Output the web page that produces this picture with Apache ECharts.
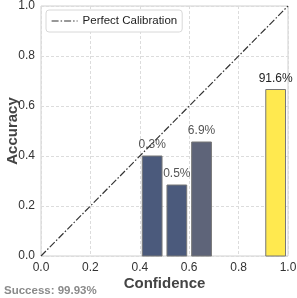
<!DOCTYPE html>
<html><head><meta charset="utf-8">
<script src="https://cdn.jsdelivr.net/npm/echarts@6/dist/echarts.min.js"></script>
<style>html,body{margin:0;padding:0;background:#fff}#c{width:297px;height:298px}</style>
</head><body><div id="c"></div>
<script>
const binCenters = [0.45, 0.55, 0.65, 0.95];
const accuracies = [0.40, 0.284, 0.456, 0.666];
const binShares = ['0.3%', '0.5%', '6.9%', '91.6%'];
const barColors = ['#4b5a7c', '#4b5a7c', '#5e6479', '#ffe94f'];
const labelColors = ['#555555', '#555555', '#555555', '#222222'];
const binWidth = 0.08;
const diagonal = [[0, 0], [1, 1]];
const ticks = [0, 0.2, 0.4, 0.6, 0.8, 1.0];

const chart = echarts.init(document.getElementById('c'), null, {renderer: 'canvas'});
const axisCommon = {
  type: 'value', min: 0, max: 1, interval: 0.2,
  axisLine: {show: false}, axisTick: {show: false},
  splitLine: {show: true, lineStyle: {color: '#dcdcdc', type: [3, 2], width: 1}},
  axisLabel: {color: '#333', fontSize: 12, fontFamily: 'Liberation Sans, Arial', formatter: v => v.toFixed(1)},
  nameLocation: 'middle', nameMoveOverlap: false,
  nameTextStyle: {color: '#444', fontSize: 15, fontWeight: 'bold', fontFamily: 'Liberation Sans, Arial'}
};
chart.setOption({
  animation: false,
  grid: {left: 41, top: 6, width: 247, height: 250, containLabel: false, outerBoundsMode: 'none',
         show: true, borderColor: '#d0d0d0', borderWidth: 1, backgroundColor: 'transparent'},
  xAxis: Object.assign({}, axisCommon, {name: 'Confidence', nameGap: 20, axisLabel: Object.assign({}, axisCommon.axisLabel, {margin: 6})}),
  yAxis: Object.assign({}, axisCommon, {name: 'Accuracy', nameGap: 21, axisLabel: Object.assign({}, axisCommon.axisLabel, {margin: 6})}),
  legend: {
    show: true, left: 46, top: 10, orient: 'horizontal',
    data: ['Perfect Calibration'],
    itemWidth: 26, itemHeight: 10, itemGap: 6,
    itemStyle: {opacity: 0},
    lineStyle: {color: '#333', width: 1.2, type: [7, 2, 1.5, 2]},
    padding: [5, 5, 5, 5],
    borderColor: '#d8d8d8', borderWidth: 1, borderRadius: 3, backgroundColor: '#fff',
    textStyle: {color: '#222', fontSize: 11.5, fontFamily: 'Liberation Sans, Arial'}
  },
  graphic: [{
    type: 'text', left: 4, top: 285,
    style: {text: 'Success: 99.93%', fill: '#8a8a8a', fontSize: 11.5, fontWeight: 'bold', fontFamily: 'Liberation Sans, Arial'}
  }],
  series: [
    {
      type: 'custom', name: 'bins', z: 3,
      data: binCenters.map((c, i) => [c, accuracies[i], i]),
      renderItem: function (params, api) {
        const i = api.value(2);
        const c = api.value(0), a = api.value(1);
        const p0 = api.coord([c - binWidth / 2, a]);
        const p1 = api.coord([c + binWidth / 2, 0]);
        return {
          type: 'group',
          children: [
            {type: 'rect', shape: {x: p0[0], y: p0[1], width: p1[0] - p0[0], height: p1[1] - p0[1]},
             style: {fill: barColors[i], stroke: '#777', lineWidth: 1}},
            {type: 'text', x: (p0[0] + p1[0]) / 2, y: p0[1] - 5,
             style: {text: binShares[i], fill: labelColors[i], fontSize: 12, fontFamily: 'Liberation Sans, Arial', align: 'center', verticalAlign: 'bottom'}}
          ]
        };
      }
    },
    {
      type: 'line', name: 'Perfect Calibration', data: diagonal, symbol: 'none', z: 5,
      lineStyle: {color: '#333', width: 1.2, type: [7, 2, 1.5, 2]},
      itemStyle: {color: '#333'}
    }
  ]
});
</script></body></html>
